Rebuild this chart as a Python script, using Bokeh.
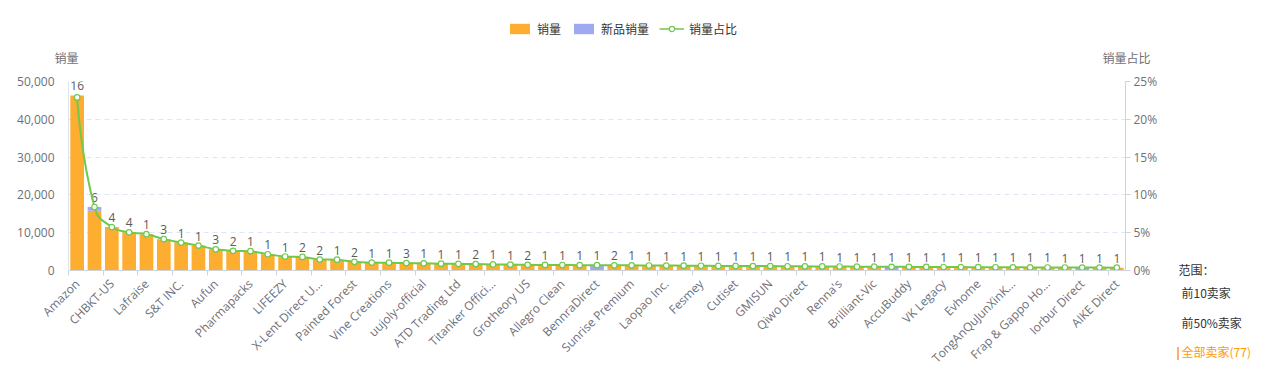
import math
import numpy as np
from bokeh.plotting import figure
from bokeh.layouts import column, row
from bokeh.core.properties import value
from bokeh.models import (Range1d, LinearAxis, FixedTicker, NumeralTickFormatter,
                          PrintfTickFormatter, Legend, LegendItem, Label, ColumnDataSource)
from bokeh.embed import file_html
from bokeh.resources import INLINE

# ---------------- data ----------------
sellers = ["Amazon", "", "CHBKT-US", "", "Lafraise", "", "S&T INC.", "", "Aufun", "",
           "Pharmapacks", "", "LIFEEZY", "", "X-Lent Direct U...", "", "Painted Forest", "",
           "Vine Creations", "", "uujoly-official", "", "ATD Trading Ltd", "", "Titanker Offici...", "",
           "Grotheory US", "", "Allegro Clean", "", "BennraDirect", "", "Sunrise Premium", "",
           "Laopao Inc.", "", "Fesmey", "", "Cutiset", "", "GMISUN", "", "Qiwo Direct", "",
           "Renna's", "", "Brilliant-Vic", "", "AccuBuddy", "", "VK Legacy", "", "Evhome", "",
           "TongAnQuJunXinK...", "", "Frap & Gappo Ho...", "", "Iorbur Direct", "", "AIKE Direct"]

sales = [46300, 15800, 11500, 10100, 9600, 8300, 7400, 6600, 5600, 5200,
         5100, 4300, 3700, 3600, 2900, 2850, 2300, 2100, 2050, 1950,
         1900, 1800, 1750, 1700, 1600, 1550, 1500, 1480, 1450, 1420,
         0, 1380, 1350, 1320, 1300, 1280, 1250, 1220, 1200, 1180,
         1150, 1120, 1100, 1080, 1050, 1020, 1000, 0, 960, 940,
         920, 900, 880, 860, 840, 820, 800, 790, 0, 770, 760]

new_sales = [0, 1000, 0, 0, 0, 0, 0, 0, 0, 0,
             0, 0, 0, 0, 0, 0, 0, 0, 0, 0,
             0, 0, 0, 0, 0, 0, 0, 0, 0, 0,
             1400, 0, 0, 0, 0, 0, 0, 0, 0, 0,
             0, 0, 0, 0, 0, 0, 0, 980, 0, 0,
             0, 0, 0, 0, 0, 0, 0, 0, 780, 0, 0]

share = [22.9, 8.4, 5.75, 5.05, 4.8, 4.15, 3.7, 3.3, 2.8, 2.6,
         2.55, 2.15, 1.85, 1.8, 1.45, 1.43, 1.15, 1.05, 1.03, 0.98,
         0.95, 0.9, 0.88, 0.85, 0.8, 0.78, 0.75, 0.74, 0.73, 0.71,
         0.7, 0.69, 0.68, 0.66, 0.65, 0.64, 0.63, 0.61, 0.6, 0.59,
         0.58, 0.56, 0.55, 0.54, 0.53, 0.51, 0.5, 0.49, 0.48, 0.47,
         0.46, 0.45, 0.44, 0.43, 0.42, 0.41, 0.4, 0.4, 0.39, 0.39, 0.38]

counts = [16, 6, 4, 4, 1, 3, 1, 1, 3, 2, 1, 1, 1, 2, 2,
          1, 2, 1, 1, 3, 1, 1, 1, 2, 1, 1, 2, 1, 1, 1, 1, 2, 1, 1,
          1, 1, 1, 1, 1, 1, 1, 1, 1, 1, 1, 1, 1, 1, 1, 1, 1, 1, 1,
          1, 1, 1, 1, 1, 1, 1, 1]

left_ticks = [0, 10000, 20000, 30000, 40000, 50000]
right_ticks = [0, 5, 10, 15, 20, 25]

series_names = ["销量", "新品销量", "销量占比"]
range_title = "范围："
range_options = ["前10卖家", "前50%卖家", "全部卖家(77)"]

# ---------------- style ----------------
ORANGE = "#fdad30"
BLUE = "#a0a8f1"
GREEN = "#6fc94c"
AXIS_TXT = "#6e7079"
FONT = "'Open Sans', 'Noto Sans CJK SC', sans-serif"
CJK = "'Noto Sans CJK SC', 'Open Sans', sans-serif"

TOP_H = 70
MAIN_W = 1170
MAIN_H = 377 - TOP_H


def blank(width, height):
    f = figure(width=width, height=height, output_backend="svg", toolbar_location=None,
               x_range=Range1d(-1, n), y_range=Range1d(1e6, 2e6),
               min_border=0, min_border_left=0, min_border_right=0,
               min_border_top=0, min_border_bottom=0)
    f.axis.visible = False
    f.grid.visible = False
    f.outline_line_color = None
    return f


def lab(f, text, x, y, color="#6e7079", align="left", size="12px", style="normal", font=CJK):
    f.add_layout(Label(x=x, y=y, x_units="screen", y_units="screen", text=text,
                       text_font_size=size, text_color=color, text_font=font,
                       text_font_style=style, text_align=align, text_baseline="middle"))


n = len(sellers)
xs = list(range(n))

src = ColumnDataSource(dict(x=xs, sales=sales, new=new_sales, share=share,
                            top=list(np.array(sales) + np.array(new_sales)),
                            cnt=[str(c) for c in counts]))

# ---------------- main chart ----------------
p = figure(width=MAIN_W, height=MAIN_H, output_backend="svg", toolbar_location=None,
           x_range=Range1d(-0.5, n - 0.5), y_range=Range1d(0, left_ticks[-1]),
           min_border_left=68, min_border_right=MAIN_W - 1125,
           min_border_top=81 - TOP_H, min_border_bottom=377 - 270)
p.extra_y_ranges = {"pct": Range1d(0, right_ticks[-1])}
p.outline_line_color = None

p.xgrid.visible = False
p.ygrid.grid_line_color = "#e0e6f1"
p.ygrid.grid_line_dash = "5 4"
p.ygrid.ticker = FixedTicker(ticks=left_ticks)

p.vbar_stack(["sales", "new"], x="x", width=0.79, color=[ORANGE, BLUE],
             line_color=None, source=src)

p.text(x="x", y="top", text="cnt", source=src, text_align="center", text_baseline="bottom",
       y_offset=-5, text_font_size="12px", text_color="#5a5a5a", text_font=value(FONT))

# smooth share line (ECharts-like bezier; control points from pixel geometry)
PX_X = 1057 / n
PX_Y = 189 / right_ticks[-1]
px = [x * PX_X for x in xs]
py = [v * PX_Y for v in share]
SM = 0.5
cin, cout = [], []
for i in range(n):
    x, y = px[i], py[i]
    if i == 0 or i == n - 1:
        cin.append((x, y)); cout.append((x, y)); continue
    ax, ay = px[i - 1], py[i - 1]
    bx, by = px[i + 1], py[i + 1]
    vx, vy = bx - ax, by - ay
    d0 = math.hypot(x - ax, y - ay); d1 = math.hypot(bx - x, by - y)
    r = d1 / (d0 + d1)
    ox, oy = x + vx * SM * r, y + vy * SM * r
    ox = max(min(ox, max(bx, x)), min(bx, x)); oy = max(min(oy, max(by, y)), min(by, y))
    ix, iy = x - vx * SM * (1 - r), y - vy * SM * (1 - r)
    ix = max(min(ix, max(ax, x)), min(ax, x)); iy = max(min(iy, max(ay, y)), min(ay, y))
    cin.append((ix, iy)); cout.append((ox, oy))
seg = dict(x0=[], y0=[], x1=[], y1=[], cx0=[], cy0=[], cx1=[], cy1=[])
for i in range(n - 1):
    seg["x0"].append(xs[i]); seg["y0"].append(share[i])
    seg["x1"].append(xs[i + 1]); seg["y1"].append(share[i + 1])
    seg["cx0"].append(cout[i][0] / PX_X); seg["cy0"].append(cout[i][1] / PX_Y)
    seg["cx1"].append(cin[i + 1][0] / PX_X); seg["cy1"].append(cin[i + 1][1] / PX_Y)
p.bezier(x0="x0", y0="y0", x1="x1", y1="y1", cx0="cx0", cy0="cy0", cx1="cx1", cy1="cy1",
         source=ColumnDataSource(seg), y_range_name="pct", line_color=GREEN, line_width=2)
p.scatter(x="x", y="share", source=src, y_range_name="pct", size=5.5,
          fill_color="white", line_color=GREEN, line_width=1.2)

xa = p.xaxis[0]
xa.ticker = FixedTicker(ticks=[i for i in xs if sellers[i]],
                        minor_ticks=[i - 0.5 for i in range(0, n + 1, 2)])
xa.major_label_overrides = {i: sellers[i] for i in xs if sellers[i]}
xa.major_label_orientation = math.pi / 4
xa.major_tick_line_color = None
xa.major_tick_out = 0
xa.major_tick_in = 0
xa.minor_tick_line_color = "#cfd3dc"
xa.minor_tick_out = 5
xa.minor_tick_in = 0
xa.axis_line_color = "#cfd3dc"
xa.major_label_standoff = 6
xa.major_label_text_font_size = "12px"
xa.major_label_text_color = AXIS_TXT
xa.major_label_text_font = FONT

ya = p.yaxis[0]
ya.ticker = FixedTicker(ticks=left_ticks)
ya.formatter = NumeralTickFormatter(format="0,0")
ya.axis_line_color = "#e0e3ea"
ya.major_tick_line_color = None
ya.minor_tick_line_color = None
ya.major_label_standoff = 8
ya.major_label_text_font_size = "12px"
ya.major_label_text_color = AXIS_TXT
ya.major_label_text_font = FONT

ra = LinearAxis(y_range_name="pct", ticker=FixedTicker(ticks=right_ticks),
                formatter=PrintfTickFormatter(format="%d%%"))
ra.axis_line_color = "#cfd3dc"
ra.major_tick_line_color = "#cfd3dc"
ra.major_tick_out = 5
ra.major_tick_in = 0
ra.minor_tick_line_color = None
ra.major_label_standoff = 3
ra.major_label_text_font_size = "12px"
ra.major_label_text_color = AXIS_TXT
ra.major_label_text_font = FONT
p.add_layout(ra, "right")

# ---------------- top strip: legend + axis names ----------------
# legend swatches come from hidden copies of the series (drawn only as legend glyphs)
top = blank(1278, TOP_H)
lg_bar = top.vbar(x="x", top="sales", source=src, width=0.5, color=ORANGE,
                  line_color=None, visible=False)
lg_new = top.vbar(x="x", top="new", source=src, width=0.5, color=BLUE,
                  line_color=None, visible=False)
lg_line = top.line(x="x", y="share", source=src, line_color=GREEN, line_width=1.5, visible=False)
lg_pt = top.scatter(x="x", y="share", source=src, size=11, fill_color="white",
                    line_color=GREEN, line_width=1.2, visible=False)
legend = Legend(items=[LegendItem(label=series_names[0], renderers=[lg_bar]),
                       LegendItem(label=series_names[1], renderers=[lg_new]),
                       LegendItem(label=series_names[2], renderers=[lg_line, lg_pt])],
                orientation="horizontal", location=(507, TOP_H - 37),
                glyph_width=25, glyph_height=13, label_standoff=5, spacing=10,
                padding=0, margin=0, border_line_color=None, background_fill_alpha=0,
                label_text_font_size="12px", label_text_color="#333333", label_text_font=CJK)
top.add_layout(legend)
lab(top, series_names[0], 66, TOP_H - 57, align="center")
lab(top, series_names[2], 1126, TOP_H - 57, align="center")

# ---------------- right strip: range selector ----------------
SIDE_W = 1278 - MAIN_W
side = blank(SIDE_W, MAIN_H)
lab(side, range_title, 1178 - MAIN_W, 377 - 269, color="#333333")
lab(side, range_options[0], 1181 - MAIN_W, 377 - 292, color="#333333")
lab(side, range_options[1], 1181 - MAIN_W, 377 - 322, color="#333333")
lab(side, range_options[2], 1181 - MAIN_W, 377 - 351, color="#ff9900")
lab(side, "|", 1174 - MAIN_W, 377 - 351, color="#ff9900", size="13px", style="bold", font=FONT)

layout = column(top, row(p, column(side, spacing=0), spacing=0), spacing=0)
open("out.html", "w").write(file_html(layout, INLINE))
